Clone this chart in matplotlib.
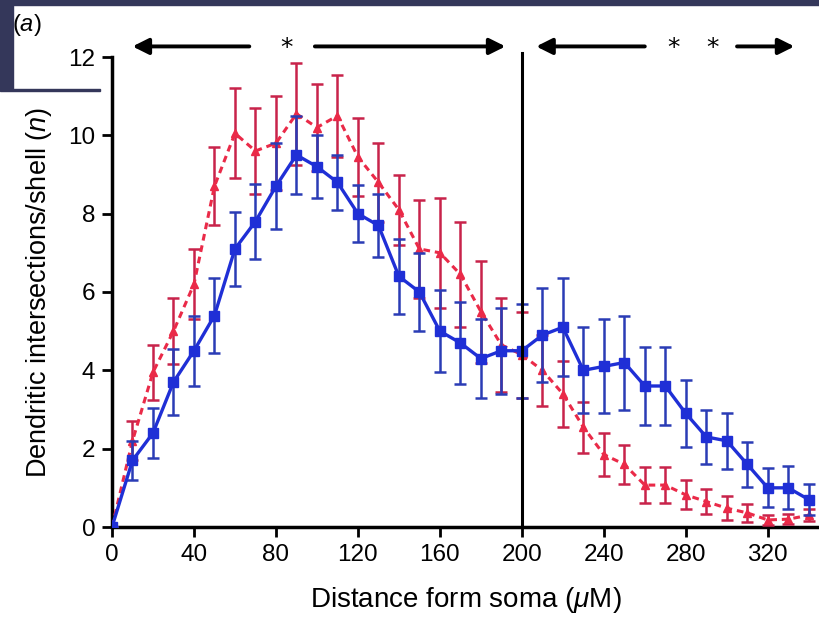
import matplotlib
matplotlib.use("Agg")
import matplotlib.pyplot as plt
from matplotlib.patches import Rectangle

# distance from soma (um) and mean dendritic intersections per shell
distance = [0, 10, 20, 30, 40, 50, 60, 70, 80, 90, 100, 110, 120, 130, 140, 150, 160,
            170, 180, 190, 200, 210, 220, 230, 240, 250, 260, 270, 280, 290, 300, 310,
            320, 330, 340]
blue_mean = [0, 1.7, 2.4, 3.7, 4.5, 5.4, 7.1, 7.8, 8.7, 9.5, 9.2, 8.8, 8.0, 7.7, 6.4, 6.0,
             5.0, 4.7, 4.3, 4.5, 4.5, 4.9, 5.1, 4.0, 4.1, 4.2, 3.6, 3.6, 2.9, 2.3, 2.2,
             1.6, 1.0, 1.0, 0.7]
blue_err = [0, 0.5, 0.65, 0.85, 0.9, 0.95, 0.95, 0.95, 1.1, 1.0, 0.8, 0.7, 0.72, 0.8, 0.95,
            1.0, 1.05, 1.05, 1.0, 1.1, 1.2, 1.2, 1.25, 1.1, 1.2, 1.2, 1.0, 1.0, 0.85, 0.7,
            0.72, 0.57, 0.5, 0.55, 0.4]
red_mean = [0, 2.2, 3.95, 5.0, 6.2, 8.7, 10.05, 9.6, 9.8, 10.55, 10.2, 10.5, 9.45, 8.8,
            8.1, 7.1, 7.0, 6.45, 5.5, 4.65, 4.4, 4.0, 3.4, 2.55, 1.85, 1.6, 1.07, 1.07,
            0.82, 0.65, 0.48, 0.36, 0.18, 0.2, 0.3]
red_err = [0, 0.5, 0.7, 0.85, 0.9, 1.0, 1.15, 1.1, 1.2, 1.3, 1.1, 1.05, 1.0, 1.0, 0.9,
           1.25, 1.4, 1.35, 1.3, 1.2, 1.1, 0.9, 0.85, 0.65, 0.55, 0.5, 0.45, 0.45, 0.37,
           0.32, 0.3, 0.23, 0.12, 0.12, 0.15]

x_ticks = [0, 40, 80, 120, 160, 200, 240, 280, 320]
y_ticks = [0, 2, 4, 6, 8, 10, 12]
boundary = 200
# significance brackets: (tail, head) pairs and asterisk positions
arrows = [(67, 10), (99, 192), (260, 207), (305, 333)]
stars = [85, 274, 293]
arrow_y = 12.27

plt.rcParams["font.family"] = ["Liberation Sans", "DejaVu Sans"]
plt.rcParams["mathtext.fontset"] = "custom"
plt.rcParams["mathtext.it"] = "Liberation Sans:italic"
plt.rcParams["mathtext.rm"] = "Liberation Sans"

BLUE = "#1f2fd6"
BLUE_ERR = "#2a3cb5"
RED = "#ea2a48"
RED_ERR = "#c8234a"
NAVY = "#34375a"

fig = plt.figure(figsize=(8.19, 6.33), dpi=100)
ax = fig.add_axes([112 / 819, 106 / 633, 707 / 819, 470 / 633])

ax.errorbar(distance, red_mean, yerr=red_err, color=RED, ecolor=RED_ERR,
            linestyle=(0, (2.2, 1.6)), linewidth=2.2, marker="^", markersize=6,
            elinewidth=1.8, capsize=4, capthick=1.8, zorder=3)
ax.errorbar(distance, blue_mean, yerr=blue_err, color=BLUE, ecolor=BLUE_ERR,
            linestyle="-", linewidth=2.4, marker="s", markersize=7,
            elinewidth=1.8, capsize=4, capthick=1.8, zorder=4)

ax.plot([boundary, boundary], [0, 12.1], color="black", linewidth=2.2, zorder=5,
        clip_on=False)

for tail, head in arrows:
    ax.annotate("", xy=(head, arrow_y), xytext=(tail, arrow_y),
                arrowprops=dict(arrowstyle="-|>", lw=2.8, color="black",
                                mutation_scale=24, shrinkA=0, shrinkB=0),
                annotation_clip=False)
for sx in stars:
    ax.text(sx, arrow_y - 0.05, "*", ha="center", va="center", fontsize=18,
            family="DejaVu Sans", clip_on=False)

ax.set_xlim(0, 345)
ax.set_ylim(0, 12)
ax.set_xticks(x_ticks)
ax.set_yticks(y_ticks)
ax.tick_params(axis="both", direction="out", length=7, width=2, labelsize=17.5,
               colors="black", pad=5)
for side in ("top", "right"):
    ax.spines[side].set_visible(False)
for side in ("left", "bottom"):
    ax.spines[side].set_linewidth(2.5)

ax.set_xlabel(r"Distance form soma ($\mathit{\mu}$M)", fontsize=20, labelpad=14)
ax.set_ylabel(r"Dendritic intersections/shell ($\mathit{n}$)", fontsize=19.5, labelpad=10)

fig.text(12 / 819, 1 - 25 / 633, r"($\mathit{a}$)", fontsize=17, va="center", ha="left")

# dark slide background peeking in at the top-left
fig.patches.append(Rectangle((0, 1 - 5 / 633), 1, 5 / 633, transform=fig.transFigure,
                             color=NAVY, zorder=10))
fig.patches.append(Rectangle((0, 1 - 90 / 633), 13 / 819, 90 / 633,
                             transform=fig.transFigure, color=NAVY, zorder=10))
fig.patches.append(Rectangle((0, 1 - 91 / 633), 100 / 819, 2 / 633,
                             transform=fig.transFigure, color=NAVY, zorder=10))

fig.savefig("out.png", dpi=100)
